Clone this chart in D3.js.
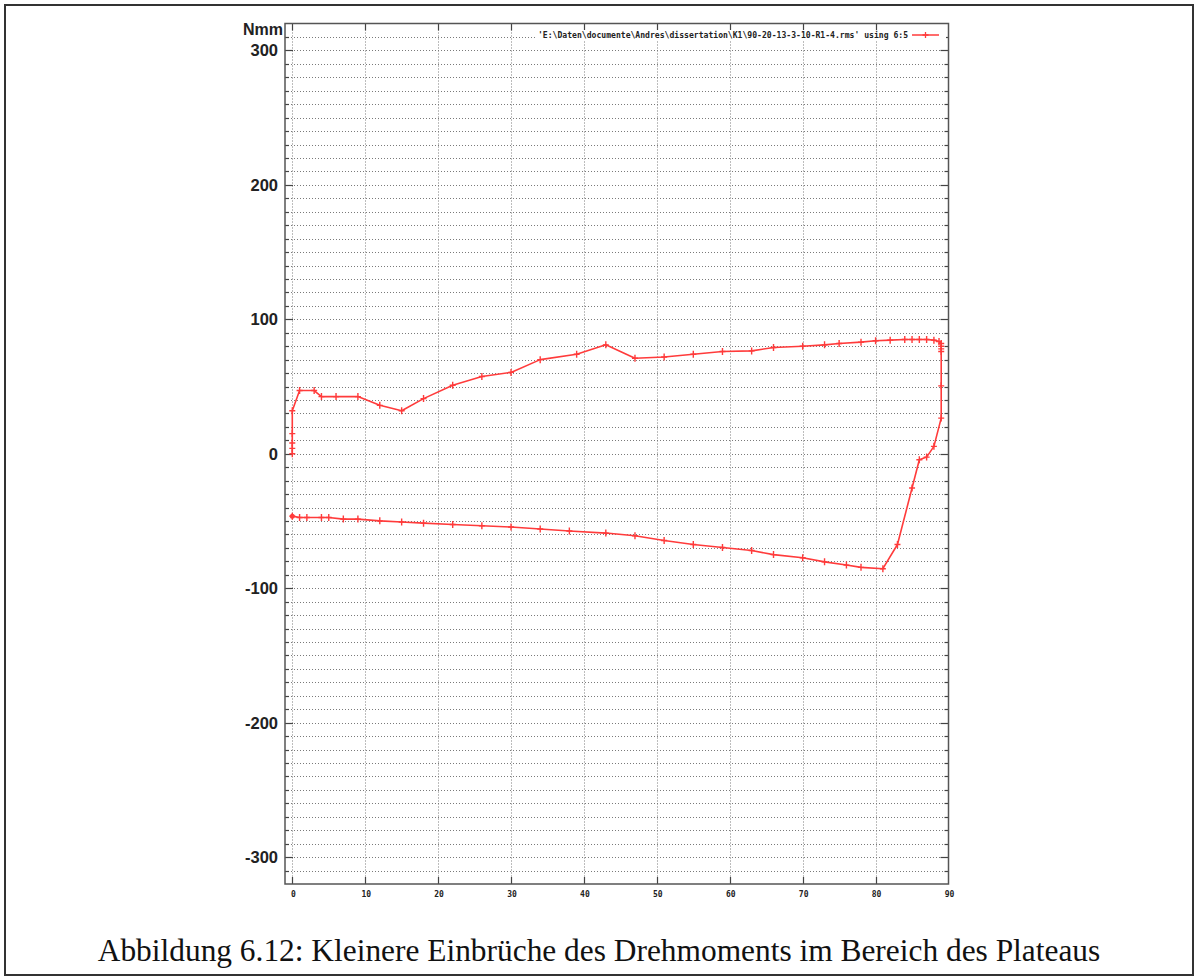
<!DOCTYPE html>
<html>
<head>
<meta charset="utf-8">
<script src="https://cdn.jsdelivr.net/npm/d3@7/dist/d3.min.js"></script>
<style>
  html, body { margin: 0; padding: 0; background: #fff; }
  svg { display: block; }
</style>
</head>
<body>
<svg id="chart" width="1198" height="980"></svg>
<script>
// ---- data ----
const angle = [0, 0, 0, 0, 0, 1, 3, 4, 6, 9, 12, 15, 18, 22, 26, 30, 34, 39, 43, 47, 51, 55, 59, 63, 66, 70, 73, 75, 78, 80, 82, 84, 85, 86, 87, 88, 88.7, 89, 89, 89, 89, 89, 89, 88, 87, 86, 85, 83, 81, 78, 76, 73, 70, 66, 63, 59, 55, 51, 47, 43, 38, 34, 30, 26, 22, 18, 15, 12, 9, 7, 5, 4, 2, 1, 0];
const torque = [0, 4, 8, 15, 32, 47, 47, 42.5, 42.5, 42.5, 36, 32, 41, 51, 57.5, 60.5, 70, 74, 81, 71, 72, 74, 76, 76.5, 79, 80, 81, 82, 83, 84, 84.5, 85, 85, 85, 85, 84.5, 83.5, 82, 80, 78, 76, 50.5, 26.5, 5.5, -2.5, -4.5, -25.5, -67.5, -85.5, -84.5, -82.8, -80.4, -77.4, -75, -72, -69.7, -67.5, -64.5, -61, -59, -57.5, -56, -54.5, -53.6, -52.6, -51.6, -50.8, -49.9, -48.6, -48.6, -47.4, -47.4, -47.4, -47.4, -46.4];
const xTicks = [0, 10, 20, 30, 40, 50, 60, 70, 80, 90];
const yTicks = [-300, -200, -100, 0, 100, 200, 300];
const yUnit = "Nmm";
const legendLabel = "'E:\\Daten\\documente\\Andres\\dissertation\\K1\\90-20-13-3-10-R1-4.rms' using 6:5";
const caption = "Abbildung 6.12: Kleinere Einbrüche des Drehmoments im Bereich des Plateaus";

const svg = d3.select("#chart");

// outer frame
svg.append("rect").attr("x", 5).attr("y", 5).attr("width", 1188).attr("height", 970)
  .attr("fill", "none").attr("stroke", "#333").attr("stroke-width", 2);

const L = 285, R = 948.5, T = 23.5, B = 884;
const x = d3.scaleLinear().domain([-1, 90]).range([L, R]);
const y = d3.scaleLinear().domain([-320, 320]).range([B, T]);

const minorY = d3.range(-310, 320, 10);
const gridX = d3.range(0, 90, 10);

// grid
const grid = svg.append("g").attr("stroke", "#7a7a7a").attr("stroke-width", 1).attr("stroke-dasharray", "1,2");
grid.selectAll("line.h").data(minorY).join("line")
  .attr("x1", L).attr("x2", R).attr("y1", d => Math.round(y(d)) + 0.5).attr("y2", d => Math.round(y(d)) + 0.5);
grid.selectAll("line.v").data(gridX).join("line")
  .attr("y1", T).attr("y2", B).attr("x1", d => Math.round(x(d)) + 0.5).attr("x2", d => Math.round(x(d)) + 0.5);

// ticks
const ticks = svg.append("g").attr("stroke", "#444").attr("stroke-width", 1.2);
minorY.forEach(d => {
  const len = (d % 100 === 0) ? 8 : 4;
  const yy = Math.round(y(d)) + 0.5;
  ticks.append("line").attr("x1", L).attr("x2", L + len).attr("y1", yy).attr("y2", yy);
  ticks.append("line").attr("x1", R).attr("x2", R - len).attr("y1", yy).attr("y2", yy);
});
gridX.forEach(d => {
  const xx = Math.round(x(d)) + 0.5;
  ticks.append("line").attr("x1", xx).attr("x2", xx).attr("y1", B).attr("y2", B - 7);
  ticks.append("line").attr("x1", xx).attr("x2", xx).attr("y1", T).attr("y2", T + 7);
});

// plot border
svg.append("rect").attr("x", L).attr("y", T).attr("width", R - L).attr("height", B - T)
  .attr("fill", "none").attr("stroke", "#555").attr("stroke-width", 1.5);

// y axis labels
svg.append("g").selectAll("text").data(yTicks).join("text")
  .attr("x", 278).attr("y", d => y(d)).attr("dy", "0.36em")
  .attr("text-anchor", "end")
  .attr("font-family", "Liberation Sans, Arial, sans-serif").attr("font-weight", "bold")
  .attr("font-size", 16.5).attr("fill", "#222")
  .text(d => d);
svg.append("text").attr("x", 283).attr("y", 29).attr("dy", "0.36em").attr("text-anchor", "end")
  .attr("font-family", "Liberation Sans, Arial, sans-serif").attr("font-weight", "bold")
  .attr("font-size", 16).attr("fill", "#222").text(yUnit);

// x axis labels
svg.append("g").selectAll("text").data(xTicks).join("text")
  .attr("x", d => x(d) + 1).attr("y", 894).attr("dy", "0.35em")
  .attr("text-anchor", "middle")
  .attr("font-family", "DejaVu Sans Mono, monospace").attr("font-weight", "bold")
  .attr("font-size", 8).attr("fill", "#222")
  .text(d => d);

// legend
svg.append("rect").attr("x", 536).attr("y", 30).attr("width", 410).attr("height", 10).attr("fill", "#fff");
svg.append("text").attr("x", 908).attr("y", 35).attr("dy", "0.35em").attr("text-anchor", "end")
  .attr("font-family", "DejaVu Sans Mono, monospace").attr("font-weight", "bold")
  .attr("font-size", 8).attr("fill", "#222")
  .attr("textLength", 370).attr("lengthAdjust", "spacingAndGlyphs")
  .text(legendLabel);
svg.append("line").attr("x1", 912).attr("x2", 939).attr("y1", 35).attr("y2", 35)
  .attr("stroke", "#ff3b3b").attr("stroke-width", 1.5);
svg.append("path").attr("d", "M925.5,32V38M922.5,35H928.5").attr("stroke", "#ff3b3b").attr("stroke-width", 1.3);

// series
const pts = angle.map((a, i) => [a, torque[i]]);
const line = d3.line().x(d => x(d[0])).y(d => y(d[1]));
svg.append("path").datum(pts).attr("d", line)
  .attr("fill", "none").attr("stroke", "#ff3b3b").attr("stroke-width", 1.6).attr("stroke-linejoin", "round");
svg.append("g").selectAll("path").data(pts).join("path")
  .attr("d", d => {
    const px = x(d[0]), py = y(d[1]);
    return `M${px},${py - 3.5}V${py + 3.5}M${px - 3},${py}H${px + 3}`;
  })
  .attr("stroke", "#ff3b3b").attr("stroke-width", 1.4);
// heavier start point
svg.append("circle").attr("cx", x(angle[angle.length - 1])).attr("cy", y(torque[torque.length - 1]))
  .attr("r", 2.5).attr("fill", "#ff3b3b");

// caption
svg.append("text").attr("x", 599).attr("y", 961).attr("text-anchor", "middle")
  .attr("font-family", "Liberation Serif, Times New Roman, serif")
  .attr("font-size", 31.4).attr("fill", "#111").text(caption);
</script>
</body>
</html>
